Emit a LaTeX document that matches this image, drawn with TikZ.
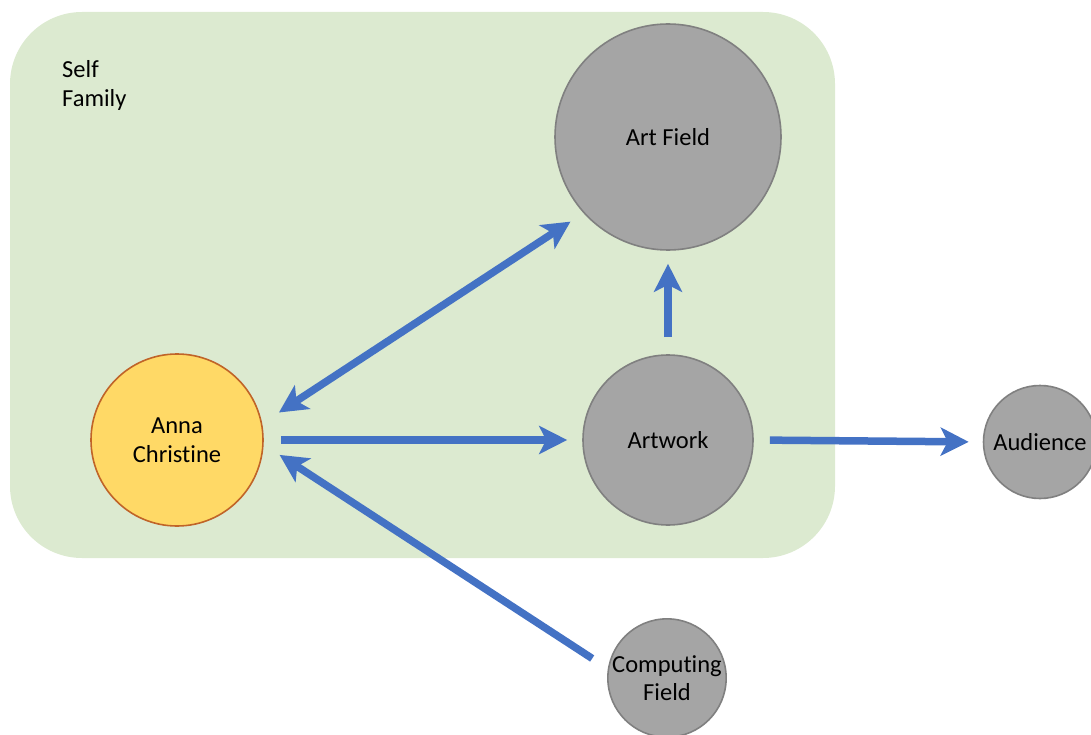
\documentclass[tikz,border=0pt]{standalone}
\usepackage{fontspec}
\setmainfont[Ligatures=NoCommon]{Carlito}
\usetikzlibrary{arrows.meta}
\definecolor{zone}{RGB}{220,234,208}
\definecolor{nodegray}{RGB}{165,165,165}
\definecolor{nodeedge}{RGB}{128,128,128}
\definecolor{selffill}{RGB}{255,217,102}
\definecolor{selfedge}{RGB}{192,100,40}
\definecolor{flow}{RGB}{68,114,196}
\tikzset{
  x=1pt, y=-1pt,
  every node/.style={font=\fontsize{24.5}{28.5}\selectfont, align=center, text=black},
  actor/.style={circle, inner sep=0pt, fill=nodegray, draw=nodeedge, line width=1.6pt},
  selfnode/.style={circle, inner sep=0pt, fill=selffill, draw=selfedge, line width=1.6pt},
  flowline/.style={draw=flow, line width=7.5pt,
    -{Stealth[length=28pt, width=28pt, inset=7pt]}},
  bothflow/.style={draw=flow, line width=7.5pt,
    {Stealth[length=28pt, width=28pt, inset=7pt]}-{Stealth[length=28pt, width=28pt, inset=7pt]}},
}
\begin{document}
\begin{tikzpicture}
  \useasboundingbox (0,0) rectangle (1091,735);
  \clip (0,0) rectangle (1091,735);

  % shared context: self and family
  \fill[zone, rounded corners=72pt] (10,12) rectangle (835,558);
  \node[anchor=north west, inner sep=0pt, align=left] (ctx) at (62,60.5) {Self\\Family};

  % actors
  \node[actor, minimum size=226pt] (art) at (668,137) {Art Field};
  \node[actor, minimum size=170pt] (work) at (668,440) {Artwork};
  \node[selfnode, minimum size=172pt] (anna) at (177,440) {Anna\\Christine};
  \node[actor, minimum size=113pt] (aud) at (1040,442) {Audience};
  \node[actor, minimum size=110pt] (comp) at (667,678) {Computing\\Field};

  % flows
  \draw[bothflow, shorten <=20pt, shorten >=15.5pt] (anna.11.5) -- (art.222.7);
  \draw[flowline, shorten <=17pt, shorten >=15pt] (anna.east) -- (work.west);
  \draw[flowline, shorten <=17pt, shorten >=13pt] (work.north) -- (art.south);
  \draw[flowline, shorten <=16pt, shorten >=14pt] (work.east) -- (aud.west);
  \draw[flowline, shorten <=18.6pt, shorten >=19pt] (comp.171.6) -- (anna.-3);
\end{tikzpicture}
\end{document}
